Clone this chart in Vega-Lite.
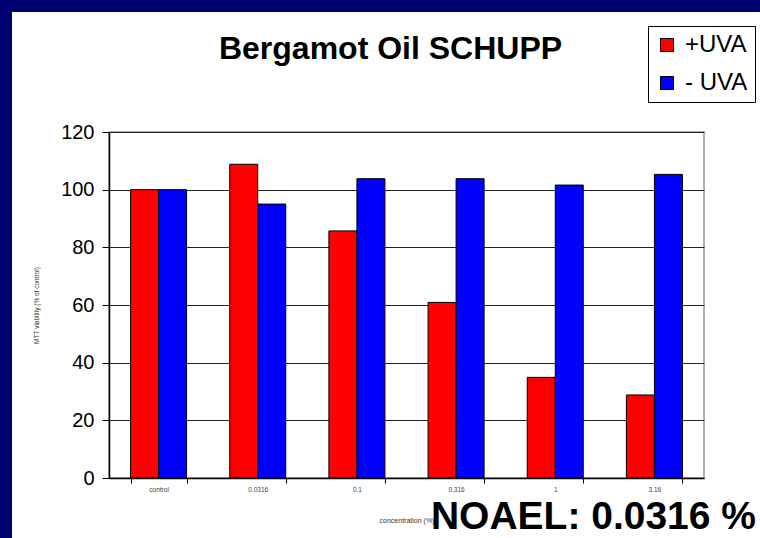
{
  "$schema": "https://vega.github.io/schema/vega-lite/v6.json",
  "padding": 0,
  "background": "white",
  "config": {"font": "Liberation Sans", "view": {"stroke": null}},
  "title": {"text": "NOAEL: 0.0316 %", "orient": "bottom", "anchor": "end", "fontSize": 39, "fontWeight": "bold", "color": "black", "offset": -40, "dx": -4},
  "spacing": 0,
  "vconcat": [
    {"width": 760, "height": 12, "view": {"fill": "#00006e", "stroke": null}, "data": {"values": []}, "mark": "point"},
    {
      "spacing": 20,
      "hconcat": [
        {"width": 12, "height": 526, "view": {"fill": "#00006e", "stroke": null}, "data": {"values": []}, "mark": "point"},
        {
          "spacing": 19,
          "vconcat": [
            {"width": 1, "height": 1, "view": {"stroke": null}, "data": {"values": []}, "mark": "point"},
            {
              "width": 595,
              "height": 346,
              "view": {"stroke": "#999999", "strokeWidth": 1.5},
              "title": {"text": "Bergamot Oil SCHUPP", "fontSize": 32, "fontWeight": "bold", "color": "black", "anchor": "middle", "dx": -16, "offset": 56},
              "data": {"values": [
                {"concentration": "control", "treatment": "+UVA", "viability": 100},
                {"concentration": "control", "treatment": "- UVA", "viability": 100},
                {"concentration": "0.0316", "treatment": "+UVA", "viability": 108.8},
                {"concentration": "0.0316", "treatment": "- UVA", "viability": 95},
                {"concentration": "0.1", "treatment": "+UVA", "viability": 85.7},
                {"concentration": "0.1", "treatment": "- UVA", "viability": 103.8},
                {"concentration": "0.316", "treatment": "+UVA", "viability": 60.9},
                {"concentration": "0.316", "treatment": "- UVA", "viability": 103.8},
                {"concentration": "1", "treatment": "+UVA", "viability": 34.9},
                {"concentration": "1", "treatment": "- UVA", "viability": 101.6},
                {"concentration": "3.16", "treatment": "+UVA", "viability": 28.8},
                {"concentration": "3.16", "treatment": "- UVA", "viability": 105.3}
              ]},
              "mark": {"type": "bar", "stroke": "black", "strokeWidth": 1},
              "encoding": {
                "x": {
                  "field": "concentration", "type": "nominal",
                  "sort": ["control", "0.0316", "0.1", "0.316", "1", "3.16"],
                  "scale": {"paddingInner": 0.435, "paddingOuter": 0.2175},
                  "axis": {
                    "title": "concentration (%)", "titleFontSize": 7, "titleFontWeight": "normal", "titleColor": "#333333", "titlePadding": 24,
                    "labelAngle": 0, "labelFontSize": 6.5, "labelColor": "#444444", "labelPadding": 3,
                    "tickBand": "extent", "tickSize": 5, "tickColor": "black", "domainColor": "black", "domainWidth": 1.5, "grid": false
                  }
                },
                "xOffset": {"field": "treatment", "type": "nominal", "sort": ["+UVA", "- UVA"], "scale": {"paddingInner": 0, "paddingOuter": 0}},
                "y": {
                  "field": "viability", "type": "quantitative",
                  "scale": {"domain": [0, 120], "nice": false},
                  "axis": {
                    "title": "MTT viability (% of control)", "titleFontSize": 6.5, "titleFontWeight": "normal", "titleColor": "#333333", "titlePadding": 21,
                    "values": [0, 20, 40, 60, 80, 100, 120],
                    "labelFontSize": 20, "labelColor": "black", "labelPadding": 8,
                    "tickSize": 7, "tickColor": "black", "domainColor": "black", "domainWidth": 1.5,
                    "grid": true, "gridColor": "#222222", "gridWidth": 1
                  }
                },
                "color": {
                  "field": "treatment", "type": "nominal",
                  "scale": {"domain": ["+UVA", "- UVA"], "range": ["#FF0000", "#0000FF"]},
                  "legend": {
                    "orient": "none", "legendX": 648, "legendY": 26, "title": null,
                    "fillColor": "white", "strokeColor": "black", "padding": 7,
                    "symbolType": "square", "symbolSize": 169, "symbolStrokeColor": "black", "symbolStrokeWidth": 1,
                    "labelFontSize": 24, "labelColor": "black", "labelOffset": 6, "rowPadding": 14
                  }
                }
              }
            }
          ]
        }
      ]
    }
  ]
}
